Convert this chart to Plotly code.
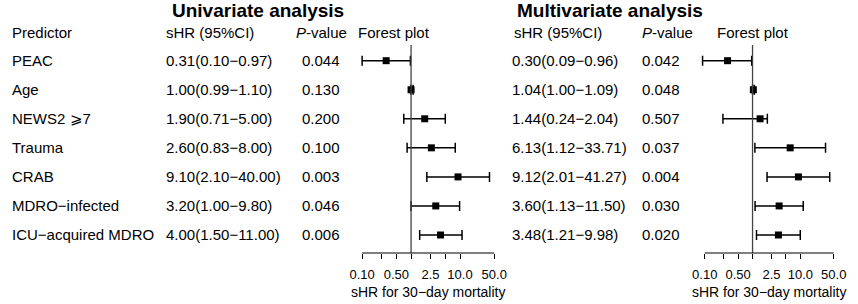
import plotly.graph_objects as go

predictors = ["PEAC", "Age", "NEWS2 ⩾7", "Trauma", "CRAB", "MDRO−infected", "ICU−acquired MDRO"]

uni_hr = [0.31, 1.00, 1.90, 2.60, 9.10, 3.20, 4.00]
uni_lo = [0.10, 0.99, 0.71, 0.83, 2.10, 1.00, 1.50]
uni_hi = [0.97, 1.10, 5.00, 8.00, 40.00, 9.80, 11.00]
uni_p = ["0.044", "0.130", "0.200", "0.100", "0.003", "0.046", "0.006"]

multi_hr = [0.30, 1.04, 1.44, 6.13, 9.12, 3.60, 3.48]
multi_lo = [0.09, 1.00, 0.24, 1.12, 2.01, 1.13, 1.21]
multi_hi = [0.96, 1.09, 2.04, 33.71, 41.27, 11.50, 9.98]
multi_p = ["0.042", "0.048", "0.507", "0.037", "0.004", "0.030", "0.020"]

tick_vals = [0.1, 0.25, 0.5, 1, 2.5, 5, 10, 50]
tick_text = ["0.10", "", "0.50", "", "2.5", "", "10.0", "50.0"]

W, H = 858, 304
FONT = "Liberation Sans, Arial, Helvetica, sans-serif"
rows = [7, 6, 5, 4, 3, 2, 1]

def fmt_ci(h, l, u):
    return f"{h:.2f}({l:.2f}−{u:.2f})"

fig = go.Figure()

def add_forest(hr, lo, hi, xa):
    fig.add_trace(go.Scatter(
        x=hr, y=rows, mode="markers", xaxis=xa, yaxis="y",
        marker=dict(symbol="square", size=7, color="black"),
        error_x=dict(type="data", symmetric=False,
                     array=[h - e for h, e in zip(hi, hr)],
                     arrayminus=[e - l for e, l in zip(hr, lo)],
                     color="black", thickness=1.5, width=5),
        cliponaxis=False, showlegend=False, hoverinfo="skip"))

add_forest(uni_hr, uni_lo, uni_hi, "x")
add_forest(multi_hr, multi_lo, multi_hi, "x2")

ydom = [1 - 253 / H, 1 - 45 / H]
yrange = [0.38, 7.54]

LOG_LO, LOG_HI = -1.1, 1.75

def xdom(p01, ppd):
    x0 = p01 - (-1 - LOG_LO) * ppd
    x1 = p01 + (LOG_HI + 1) * ppd
    return [x0 / W, x1 / W]

axcommon = dict(type="log", range=[LOG_LO, LOG_HI], showgrid=False, zeroline=False,
                showline=False, ticks="outside", ticklen=5, tickwidth=1,
                tickcolor="black", tickvals=tick_vals, ticktext=tick_text,
                tickfont=dict(family=FONT, size=13, color="black"),
                ticklabelstandoff=4, anchor="y")

fig.update_layout(
    width=W, height=H, margin=dict(l=0, r=0, t=0, b=0),
    paper_bgcolor="white", plot_bgcolor="white",
    font=dict(family=FONT, color="black"),
    xaxis=dict(domain=xdom(361.7, 50.0), **axcommon),
    xaxis2=dict(domain=xdom(711.7, 48.8), **axcommon),
    yaxis=dict(domain=ydom, range=yrange, visible=False),
)

shapes = []
for xa in ["x", "x2"]:
    shapes.append(dict(type="line", xref=xa, yref="y", x0=1, x1=1, y0=yrange[0], y1=yrange[1],
                       line=dict(color="#444444", width=1.3)))
    shapes.append(dict(type="line", xref=xa, yref="paper", x0=0.1, x1=50, y0=ydom[0], y1=ydom[0],
                       line=dict(color="black", width=1)))
fig.update_layout(shapes=shapes)

ann = []
def txt(x, y, s, size=15, yref="y", bold=False, xanchor="left"):
    if bold:
        s = f"<b>{s}</b>"
    ann.append(dict(x=x / W, xref="paper", y=y if yref == "y" else 1 - y / H, yref=yref,
                    text=s, showarrow=False, xanchor=xanchor, yanchor="middle",
                    font=dict(family=FONT, size=size, color="black")))

# titles
txt(165, 10, "Univariate analysis", size=19, yref="paper", bold=True)
txt(518, 10, "Multivariate analysis", size=19, yref="paper", bold=True)
# headers
txt(2, 33, "Predictor", yref="paper")
txt(159, 33, "sHR (95%CI)", yref="paper")
txt(292, 33, "<i>P</i>-value", yref="paper")
txt(355, 33, "Forest plot", yref="paper")
txt(515, 33, "sHR (95%CI)", yref="paper")
txt(646, 33, "<i>P</i>-value", yref="paper")
txt(722, 33, "Forest plot", yref="paper")
# rows
for i, r in enumerate(rows):
    txt(2, r, predictors[i])
    txt(159, r, fmt_ci(uni_hr[i], uni_lo[i], uni_hi[i]))
    txt(298, r, uni_p[i])
    txt(513, r, fmt_ci(multi_hr[i], multi_lo[i], multi_hi[i]))
    txt(646, r, multi_p[i])
# axis titles
txt(429, 292, "sHR for 30−day mortality", size=14, yref="paper", xanchor="center")
txt(777.5, 292, "sHR for 30−day mortality", size=14, yref="paper", xanchor="center")

fig.update_layout(annotations=ann)
fig.write_html("out.html", config={"displayModeBar": False},
               post_script="document.body.style.margin='0';document.body.style.padding='0';")
